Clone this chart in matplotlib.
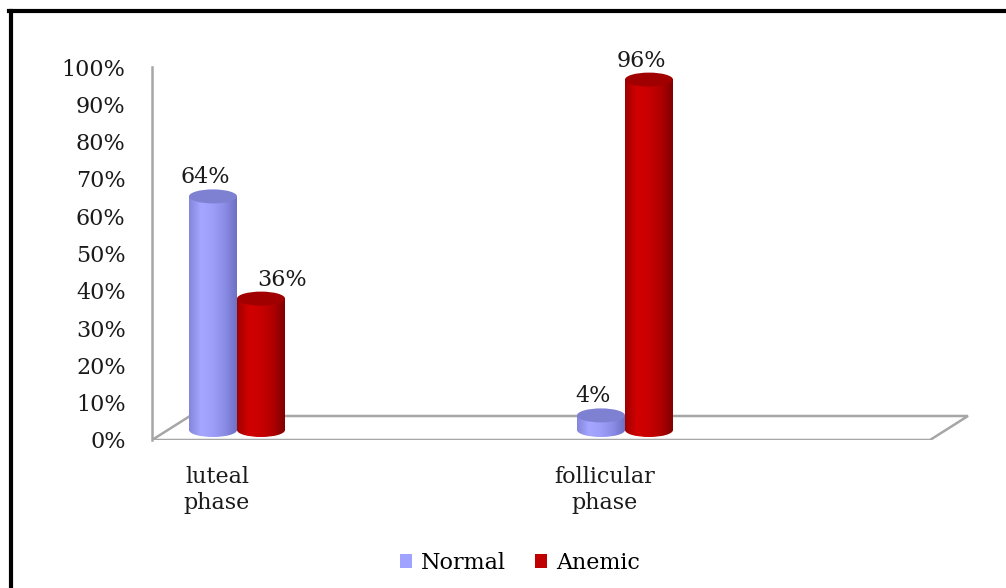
import matplotlib
matplotlib.use('Agg')
import matplotlib.pyplot as plt
import numpy as np
from matplotlib.patches import Ellipse, Polygon, Patch
from matplotlib.colors import LinearSegmentedColormap
from matplotlib.lines import Line2D

# data
categories = ['luteal\nphase', 'follicular\nphase']
series_names = ['Normal', 'Anemic']
normal = [64, 4]
anemic = [36, 96]
y_ticks = [0, 10, 20, 30, 40, 50, 60, 70, 80, 90, 100]

plt.rcParams['font.family'] = ['DejaVu Serif']
FS = 16

W, H = 1006, 588
fig = plt.figure(figsize=(W / 100, H / 100), dpi=100)
ax = fig.add_axes([152 / W, 148 / H, (970 - 152) / W, 373 / H])

# x: category units (388 px per category), y: percent
px_x = 388.0
px_y = 3.73
xlim = (-85 / px_x, 733 / px_x)

# shaded cylinder colours (left -> right across the body)
blue_cmap = LinearSegmentedColormap.from_list(
    'blue', ['#8486dc', '#a4a6ff', '#9c9ef8', '#8a8ce6', '#6e70c4'])
red_cmap = LinearSegmentedColormap.from_list(
    'red', ['#a00000', '#d20000', '#c80000', '#b00000', '#800000'])
top_colors = ['#7e80d2', '#a00000']
cmaps = [blue_cmap, red_cmap]

# 3d floor (front edge, back edge)
depth_dx = 38 / px_x
depth_dy = 24 / px_y
floor_right = 693 / px_x
floor = Polygon([(xlim[0], 0), (floor_right, 0),
                 (floor_right + depth_dx, depth_dy), (xlim[0] + depth_dx, depth_dy)],
                closed=True, facecolor='white', edgecolor='#a6a6a6', lw=1.8, zorder=1)
ax.add_patch(floor)
ax.plot([xlim[0], xlim[0]], [0, 100], color='#a6a6a6', lw=1.8, zorder=1, clip_on=False)

bar_w = 48 / px_x
base = 10 / px_y          # bars sit mid-depth on the floor
scale = 365 / 373.0       # perspective shrink of the bars
ell_h = 14 / px_y
grad = np.linspace(0, 1, 200).reshape(1, -1)

for s, vals in enumerate([normal, anemic]):
    for i, v in enumerate(vals):
        xc = i + (s - 0.5) * bar_w
        x0, x1 = xc - bar_w / 2, xc + bar_w / 2
        top = base + v * scale
        # bottom half ellipse
        bot = Ellipse((xc, base), bar_w, ell_h, transform=ax.transData)
        im = ax.imshow(grad, extent=[x0, x1, base - ell_h / 2, base + ell_h / 2],
                       aspect='auto', cmap=cmaps[s], zorder=2 + s, interpolation='bilinear')
        im.set_clip_path(bot)
        # body
        ax.imshow(grad, extent=[x0, x1, base, top], aspect='auto', cmap=cmaps[s],
                  zorder=2 + s, interpolation='bilinear')
        # top cap
        ax.add_patch(Ellipse((xc, top), bar_w, ell_h, facecolor=top_colors[s],
                             edgecolor='none', zorder=2 + s))
        # value label, nudged right when the neighbour on the left is taller
        dx = -8
        if s == 1 and normal[i] > v:
            dx = 21
        ax.annotate(f'{v}%', (xc, top), xytext=(dx, 19), textcoords='offset pixels',
                    ha='center', va='center', fontsize=FS, color='#1a1a1a', zorder=6)

ax.set_xlim(xlim)
ax.set_ylim(0, 100)
ax.set_yticks(y_ticks)
ax.set_yticklabels([f'{t}%' for t in y_ticks], fontsize=FS, color='#1a1a1a')
ax.set_xticks([i - 20 / px_x for i in range(len(categories))])
ax.set_xticklabels(categories, fontsize=FS, color='#1a1a1a', linespacing=1.2)
ax.tick_params(axis='y', length=0, pad=19)
ax.tick_params(axis='x', length=0, pad=19)
for sp in ax.spines.values():
    sp.set_visible(False)

handles = [Patch(facecolor='#a0a2ff', edgecolor='none'),
           Patch(facecolor='#c00000', edgecolor='none')]
fig.legend(handles, series_names, loc='center', bbox_to_anchor=(520 / W, 1 - 563 / H),
           ncol=2, frameon=False, fontsize=FS, handlelength=0.55, handleheight=0.55,
           handletextpad=0.4, columnspacing=1.3)

# outer frame (cut off at right and bottom)
fig.add_artist(Line2D([11 / W, 11 / W], [0, 1 - 11 / H], color='black', lw=3,
                      transform=fig.transFigure))
fig.add_artist(Line2D([9 / W, 1], [1 - 11 / H, 1 - 11 / H], color='black', lw=3,
                      transform=fig.transFigure))

fig.savefig('out.png', dpi=100)
